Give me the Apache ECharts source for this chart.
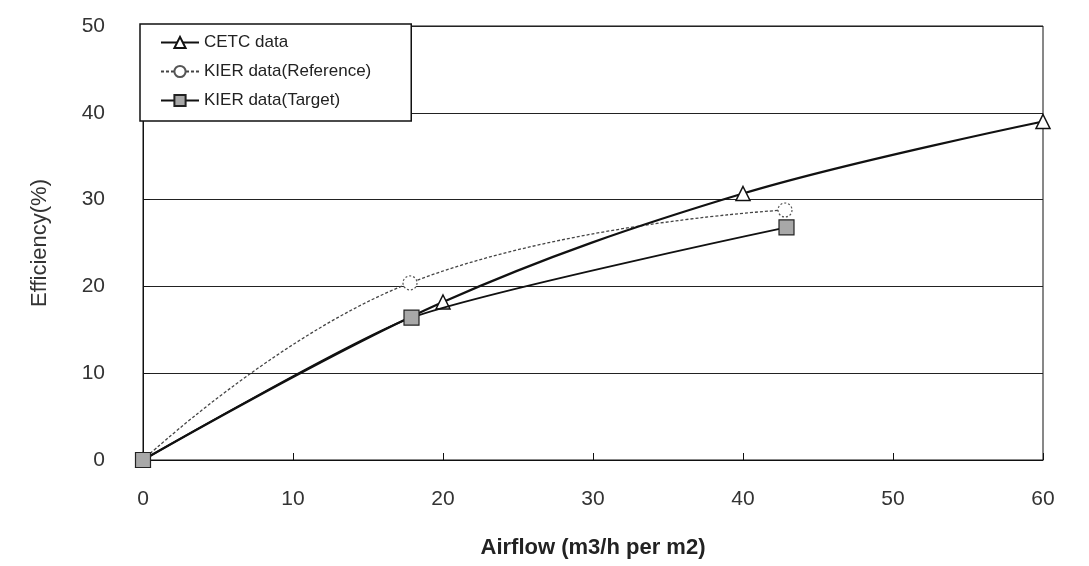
<!DOCTYPE html>
<html>
<head>
<meta charset="utf-8">
<script src="https://cdn.jsdelivr.net/npm/echarts@6/dist/echarts.min.js"></script>
<style>
  html, body { margin: 0; padding: 0; background: #fff; }
  #chart { width: 1089px; height: 566px; }
</style>
</head>
<body>
<div id="chart"></div>
<script>
// values
const cetcX = [0, 20, 40, 60]
const cetcY = [0, 18.2, 30.7, 39]
const refX = [0, 17.8, 42.8]
const refY = [0, 20.4, 28.8]
const targetX = [0, 17.9, 42.9]
const targetY = [0, 16.4, 26.8]

const xTicks = [0, 10, 20, 30, 40, 50, 60]
const yTicks = [0, 10, 20, 30, 40, 50]

function pairs(xs, ys) {
    return xs.map((x, i) => [x, ys[i]])
}

const font = 'Liberation Sans, Arial, sans-serif'

const chart = echarts.init(document.getElementById('chart'))

chart.setOption({
    animation: false,
    backgroundColor: '#fff',
    grid: {
        left: 143,
        right: 46,
        top: 26,
        bottom: 106,
        show: true,
        borderColor: '#111',
        borderWidth: 1,
        containLabel: false
    },
    legend: {
        orient: 'vertical',
        left: 140,
        top: 24,
        padding: [10, 40, 12, 20],
        itemGap: 12,
        itemWidth: 38,
        itemHeight: 14,
        backgroundColor: '#fff',
        borderColor: '#111',
        borderWidth: 1.5,
        textStyle: { fontFamily: font, fontSize: 17, color: '#222' },
        data: ['CETC data', 'KIER data(Reference)', 'KIER data(Target)']
    },
    xAxis: {
        type: 'value',
        min: xTicks[0],
        max: xTicks[xTicks.length - 1],
        interval: 10,
        name: 'Airflow (m3/h per m2)',
        nameLocation: 'middle',
        nameGap: 77,
        nameTextStyle: { fontFamily: font, fontSize: 22, fontWeight: 'bold', color: '#222' },
        axisLine: { show: true, lineStyle: { color: '#111', width: 1 } },
        axisTick: { show: true, inside: true, length: 7, lineStyle: { color: '#111' } },
        axisLabel: { fontFamily: font, fontSize: 21, color: '#333', margin: 29 },
        splitLine: { show: false }
    },
    yAxis: {
        type: 'value',
        min: yTicks[0],
        max: yTicks[yTicks.length - 1],
        interval: 10,
        name: 'Efficiency(%)',
        nameLocation: 'middle',
        nameGap: 92,
        nameRotate: 90,
        nameTextStyle: { fontFamily: font, fontSize: 22, color: '#333' },
        axisLine: { show: true, lineStyle: { color: '#111', width: 1 } },
        axisTick: { show: true, inside: true, length: 7, lineStyle: { color: '#111' } },
        axisLabel: { fontFamily: font, fontSize: 21, color: '#333', margin: 38 },
        splitLine: { show: true, lineStyle: { color: '#222', width: 1 } }
    },
    series: [
        {
            name: 'CETC data',
            type: 'line',
            smooth: 0.35,
            data: pairs(cetcX, cetcY),
            symbol: 'triangle',
            symbolSize: 14,
            lineStyle: { color: '#111', width: 2.2 },
            itemStyle: { color: '#fff', borderColor: '#111', borderWidth: 1.5 },
            z: 3
        },
        {
            name: 'KIER data(Reference)',
            type: 'line',
            smooth: 0.45,
            data: pairs(refX, refY),
            symbol: 'circle',
            symbolSize: 14,
            lineStyle: { color: '#444', width: 1.3, type: [3, 2] },
            itemStyle: { color: '#fff', borderColor: '#555', borderWidth: 1.2, borderType: [2, 2] },
            z: 2
        },
        {
            name: 'KIER data(Target)',
            type: 'line',
            smooth: 0.2,
            data: pairs(targetX, targetY),
            symbol: 'rect',
            symbolSize: 15,
            lineStyle: { color: '#111', width: 1.8 },
            itemStyle: { color: '#a8a8a8', borderColor: '#222', borderWidth: 1.2 },
            z: 4
        }
    ]
})
</script>
</body>
</html>
